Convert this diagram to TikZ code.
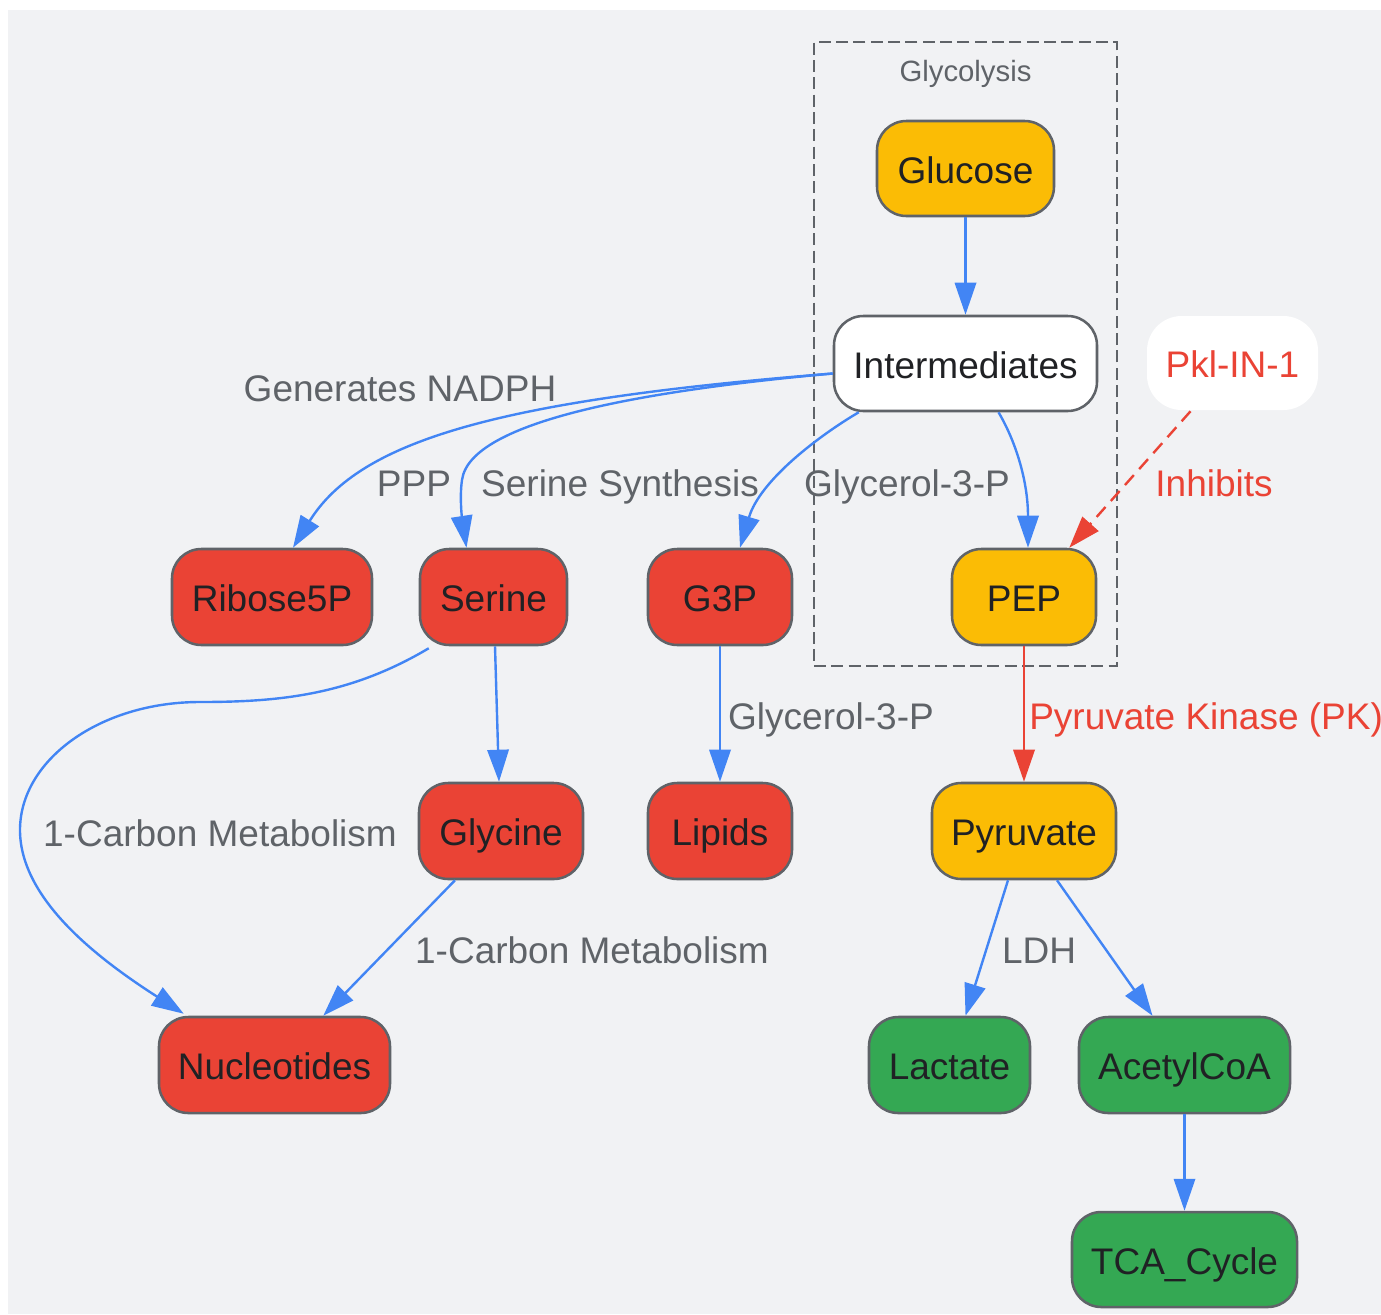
\documentclass[tikz,border=0pt]{standalone}
\usepackage{fontspec}
\setmainfont{Liberation Sans}
\usetikzlibrary{arrows.meta,calc}
\definecolor{bg}{HTML}{F1F2F4}
\definecolor{gy}{HTML}{FBBC05}
\definecolor{gr}{HTML}{EA4335}
\definecolor{gg}{HTML}{34A853}
\definecolor{gb}{HTML}{4285F4}
\definecolor{lbl}{HTML}{5F6368}
\definecolor{bord}{HTML}{5F6368}
\definecolor{txt}{HTML}{202124}
\begin{document}
\begin{tikzpicture}[x=0.75pt,y=-0.75pt,
  box/.style={draw=bord, line width=1.9pt, rounded corners=22pt, text=txt,
    font=\fontsize{27.75}{32}\selectfont, inner sep=0pt, text height=24pt, text depth=2pt},
  sz/.style 2 args={minimum width=#1*0.75pt, minimum height=#2*0.75pt},
  clus/.style={draw=bord, line width=1.5pt, dash pattern=on 9pt off 4pt},
  lab/.style={text=lbl, font=\fontsize{27.75}{32}\selectfont, inner sep=0pt, text height=22pt, text depth=2pt},
  blueline/.style={draw=gb, line width=1.8pt, -{Triangle[length=24pt,width=16pt]}},
  redline/.style={draw=gr, line width=1.8pt, -{Triangle[length=24pt,width=16pt]}},
  reddash/.style={draw=gr, line width=1.8pt, dash pattern=on 10pt off 6pt, -{Triangle[length=24pt,width=16pt]}}
]
\useasboundingbox (0,0) rectangle (1381,1314);
\fill[bg] (8,10) rectangle (1381,1314);

% cluster
\node[clus, sz={303}{624}] (cl) at (965.5,354) {};
\node[lab, font=\fontsize{22}{26}\selectfont, text height=17pt, text depth=2pt] (cltitle) at (965.5,71) {Glycolysis};

% nodes
\node[box, fill=gy, sz={177}{95}] (glu) at (965.5,168.5) {Glucose};
\node[box, fill=white, sz={263}{95}] (int) at (965.5,363.5) {Intermediates};
\node[box, draw=none, fill=white, sz={171}{94}, text=gr, rounded corners=26pt] (pkl) at (1232.5,363) {Pkl-IN-1};
\node[box, fill=gr, sz={200}{96}] (rib) at (272,597) {Ribose5P};
\node[box, fill=gr, sz={147}{96}] (ser) at (493.5,597) {Serine};
\node[box, fill=gr, sz={144}{96}] (g3p) at (720,597) {G3P};
\node[box, fill=gy, sz={144}{96}] (pep) at (1024,597) {PEP};
\node[box, fill=gr, sz={164}{96}] (gly) at (501,831) {Glycine};
\node[box, fill=gr, sz={144}{96}] (lip) at (720,831) {Lipids};
\node[box, fill=gy, sz={184}{96}] (pyr) at (1024,831) {Pyruvate};
\node[box, fill=gr, sz={231}{96}] (nuc) at (274.5,1065) {Nucleotides};
\node[box, fill=gg, sz={161}{96}] (lac) at (949.5,1065) {Lactate};
\node[box, fill=gg, sz={211}{96}] (acc) at (1184.5,1065) {AcetylCoA};
\node[box, fill=gg, sz={225}{95}] (tca) at (1184.5,1259.5) {TCA\_Cycle};

% edges
\draw[blueline] (glu) -- (int);
\draw[blueline] ($(int.west)+(0,10)$) .. controls (500,400) and (360,440) .. ($(rib.north)+(21,0)$);
\draw[blueline] ($(int.west)+(0,10)$) .. controls (650,390) and (470,420) .. (462,480)
   .. controls (459,500) and (463,525) .. ($(ser.north)+(-27,0)$);
\draw[blueline] ($(int.south west)+(26,0)$) .. controls (820,435) and (760,480) .. ($(g3p.north)+(20,0)$);
\draw[blueline] ($(int.south)+(33,0)$) .. controls (1015,440) and (1028,480) .. ($(pep.north)+(4,0)$);
\draw[reddash] ($(pkl.south)+(-42,0)$) -- ($(pep.north east)+(-28,0)$);
\draw[redline] (pep) -- (pyr);
\draw[blueline] ($(ser.south)+(1.5,0)$) -- ($(gly.north)+(-2,0)$);
\draw[blueline] ($(ser.south west)+(10,2)$) .. controls (350,695) and (280,702) .. (200,702)
   .. controls (100,702) and (20,760) .. (20,830)
   .. controls (20,900) and (100,960) .. ($(nuc.north west)+(26,-2)$);
\draw[blueline] ($(gly.south)+(-46,0)$) -- ($(nuc.north east)+(-68,0)$);
\draw[blueline] (g3p) -- (lip);
\draw[blueline] ($(pyr.south)+(-16,0)$) -- ($(lac.north)+(16,0)$);
\draw[blueline] ($(pyr.south)+(33,0)$) -- ($(acc.north)+(-32,0)$);
\draw[blueline] (acc) -- (tca);

% labels
\node[lab] (l1) at (400,388) {Generates NADPH};
\node[lab] (l2) at (414,483) {PPP};
\node[lab] (l3) at (620,483) {Serine Synthesis};
\node[lab] (l4) at (907,483) {Glycerol-3-P};
\node[lab, text=gr] (l5) at (1214,483) {Inhibits};
\node[lab] (l6) at (831,716) {Glycerol-3-P};
\node[lab, text=gr, anchor=west] (l7) at (1029,716) {Pyruvate Kinase (PK)};
\node[lab] (l8) at (220,833) {1-Carbon Metabolism};
\node[lab] (l9) at (592,950) {1-Carbon Metabolism};
\node[lab] (l10) at (1039,950) {LDH};
\end{tikzpicture}
\end{document}
